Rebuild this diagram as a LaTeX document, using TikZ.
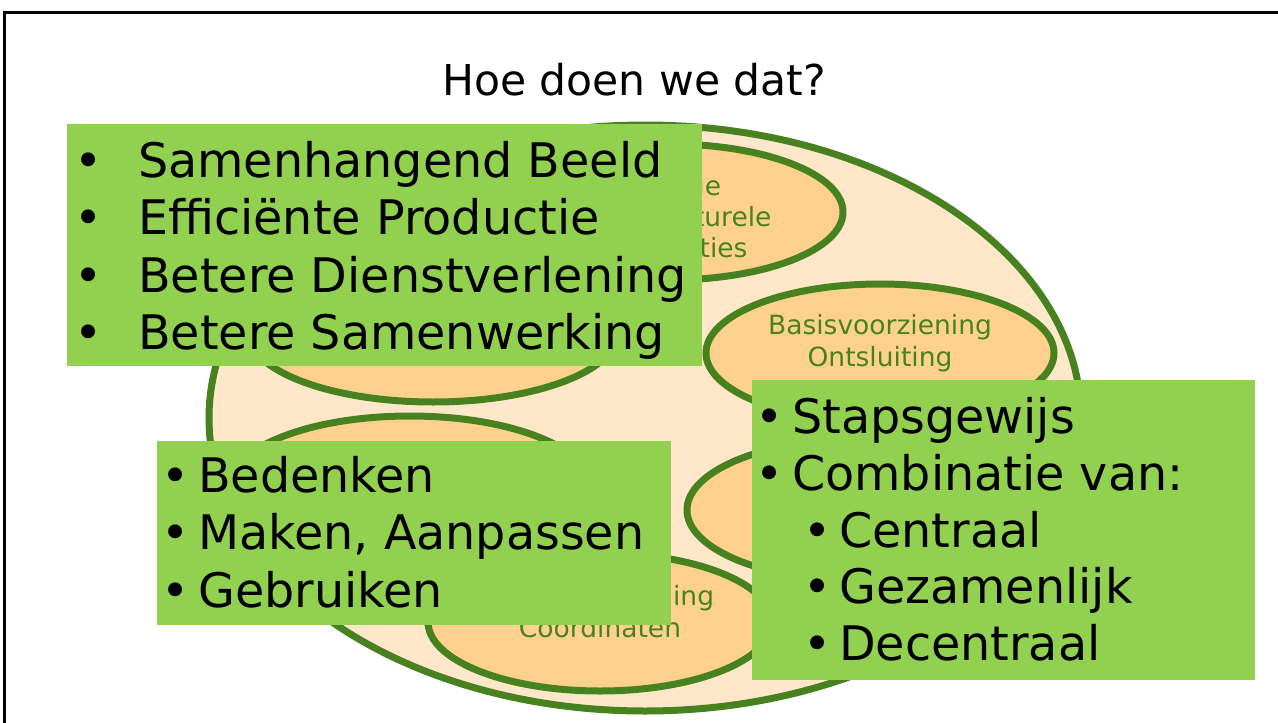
\documentclass[tikz,border=0pt]{standalone}
\usepackage{fontspec}
\setmainfont{DejaVu Sans}
\usepackage{tikz}
\usetikzlibrary{shapes.geometric}
\definecolor{leafgreen}{RGB}{72,130,32}
\definecolor{paleorange}{RGB}{255,232,201}
\definecolor{lightorange}{RGB}{255,209,143}
\definecolor{boxgreen}{RGB}{146,208,80}

\begin{document}
\begin{tikzpicture}[x=1pt, y=-1pt,
  blob/.style={ellipse, draw=leafgreen, line width=7pt, fill=lightorange, inner sep=0pt},
  blobtext/.style={font=\fontsize{26.5}{31}\selectfont, text=leafgreen, inner sep=0pt, anchor=base},
  greenbox/.style={fill=boxgreen, inner sep=0pt, anchor=north west},
  bullet/.style={font=\fontsize{47.6}{57}\selectfont, inner sep=0pt, anchor=base},
  item/.style={font=\fontsize{47.6}{57}\selectfont, inner sep=0pt, anchor=base west}]
  \useasboundingbox (0,0) rectangle (1278,723);
  \draw[line width=3pt] (4.5,723) -- (4.5,12.5) -- (1278,12.5);
  \node[anchor=base, inner sep=0pt, font=\fontsize{42.5}{50}\selectfont] (title) at (634,95) {Hoe doen we dat?};

  % ellipses
  \node[blob, fill=paleorange, minimum width=872pt, minimum height=586pt] (outer) at (645,418) {};
  \node[blob, minimum width=348pt, minimum height=136pt] (infra) at (669,212) {};
  \node[blob, minimum width=348pt, minimum height=138pt] (basis) at (880,353) {};
  \node[blob, minimum width=370pt, minimum height=140pt] (left) at (433,332) {};
  \node[blob, minimum width=360pt, minimum height=140pt] (lower) at (410,486) {};
  \node[blob, minimum width=346pt, minimum height=142pt] (reg) at (860,510) {};
  \node[blob, minimum width=344pt, minimum height=138pt] (plaats) at (600,622) {};

  \node[blobtext] (infra1) at (669,195) {Overige};
  \node[blobtext] (infra2) at (669,226) {Infrastructurele};
  \node[blobtext] (infra3) at (669,257) {Registraties};
  \node[blobtext] (basis1) at (880,334) {Basisvoorziening};
  \node[blobtext] (basis2) at (880,366) {Ontsluiting};
  \node[blobtext] (plaats1) at (600,605) {Plaatsaanduiding};
  \node[blobtext] (plaats2) at (600,637) {Coördinaten};

  % green boxes
  \node[greenbox, minimum width=635pt, minimum height=242pt] (why) at (67,124) {};
  \foreach \txt [count=\i] in {Samenhangend Beeld, Efficiënte Productie, Betere Dienstverlening, Betere Samenwerking} {
    \node[bullet] (whyb\i) at (89,{177+57.6*(\i-1)}) {•};
    \node[item] (why\i) at (138,{177+57.6*(\i-1)}) {\txt};
  }

  \node[greenbox, minimum width=514pt, minimum height=184pt] (how) at (157,441) {};
  \foreach \txt [count=\i] in {Bedenken, {Maken, Aanpassen}, Gebruiken} {
    \node[bullet] (howb\i) at (176,{492+57.5*(\i-1)}) {•};
    \node[item] (how\i) at (198,{492+57.5*(\i-1)}) {\txt};
  }

  \node[greenbox, minimum width=503pt, minimum height=300pt] (way) at (752,380) {};
  \foreach \txt [count=\i] in {Stapsgewijs, Combinatie van:} {
    \node[bullet] (wayb\i) at (770,{433+57*(\i-1)}) {•};
    \node[item] (way\i) at (792,{433+57*(\i-1)}) {\txt};
  }
  \foreach \txt [count=\i] in {Centraal, Gezamenlijk, Decentraal} {
    \node[bullet] (subb\i) at (818,{547+56.5*(\i-1)}) {•};
    \node[item] (sub\i) at (839,{547+56.5*(\i-1)}) {\txt};
  }
\end{tikzpicture}
\end{document}
